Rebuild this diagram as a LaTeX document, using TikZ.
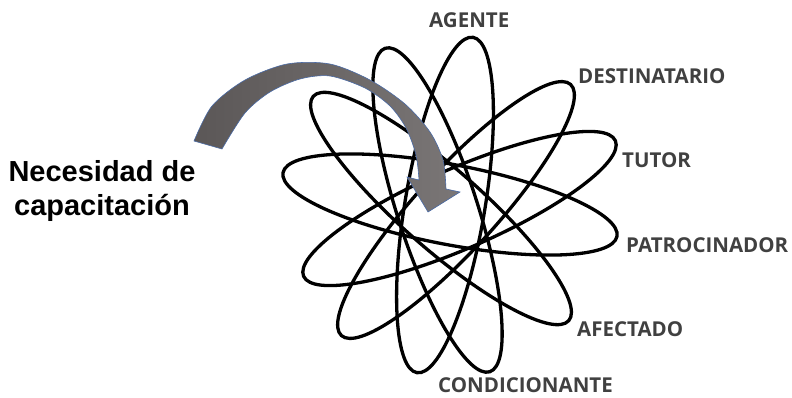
\documentclass[tikz,border=0pt]{standalone}
\usepackage{fontspec}
\newfontfamily\ruolofont{Open Sans}
\newfontfamily\titolofont{Liberation Sans}
\definecolor{ruolo}{HTML}{404040}
\definecolor{frecciascura}{HTML}{5B5757}
\definecolor{frecciachiara}{HTML}{7A7676}
\definecolor{bordo}{HTML}{4A6AA5}

\begin{document}
\begin{tikzpicture}[x=1pt,y=-1pt,
  anello/.style={line width=3.3pt},
  ruolo/.style={anchor=base west,inner sep=0pt,text=ruolo,
    font=\ruolofont\bfseries\fontsize{20.5}{24}\selectfont}]
  \useasboundingbox (0,0) rectangle (792,397);
  % ellissi: centro x, centro y, angolo
  \foreach \cx/\cy/\a in {445/205/80.5, 437.5/210/107.9, 456/210/47.6,
                          441/208.5/138.7, 459.5/208.5/23.5, 450/204.5/169.2} {
    \draw[anello, rotate around={\a:(\cx,\cy)}] (\cx,\cy) ellipse [x radius=170, y radius=40];
  }
  % freccia curva
  \path[draw=bordo, line width=0.6pt, left color=frecciascura, right color=frecciachiara]
    plot[smooth] coordinates {(194,141) (212,106) (245,80) (287,64) (330,64)
      (370,80) (405,104) (430,132) (443,160) (446,189)}
    -- (460,192) -- (428,212) -- (407,177)
    -- plot[smooth] coordinates {(419,180) (416,155) (406,128) (390,106)
      (365,88) (330,76) (300,79) (270,92) (245,113) (222,149)} -- cycle;

  \node[ruolo] (agente) at (429,27) {AGENTE};
  \node[ruolo] (destinatario) at (578,83) {DESTINATARIO};
  \node[ruolo] (tutor) at (622,167) {TUTOR};
  \node[ruolo] (patrocinador) at (626,252) {PATROCINADOR};
  \node[ruolo] (afectado) at (577,336) {AFECTADO};
  \node[ruolo] (condicionante) at (438,392) {CONDICIONANTE};
  \node[align=center, inner sep=0pt,
    font=\titolofont\bfseries\fontsize{29}{33.3}\selectfont] (necesidad) at (102,191)
    {Necesidad de\\capacitación};
\end{tikzpicture}
\end{document}
